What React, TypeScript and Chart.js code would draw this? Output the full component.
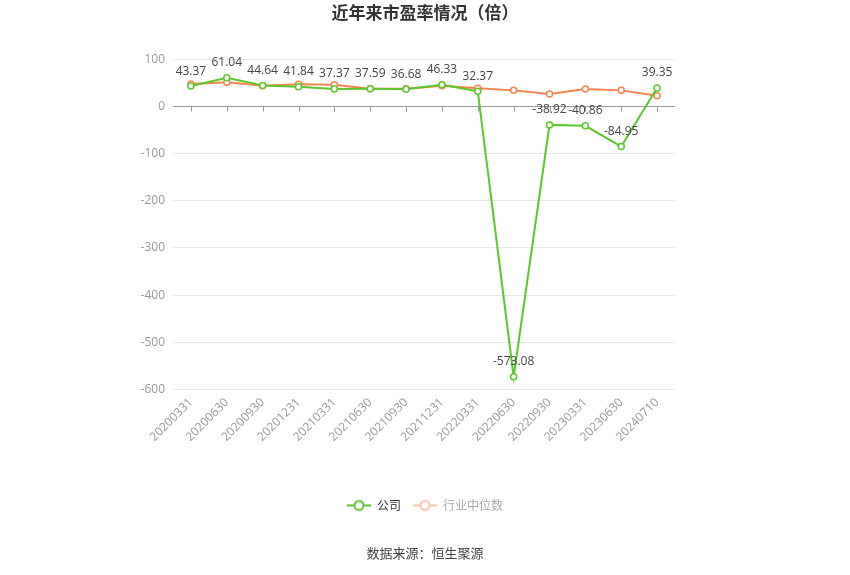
import { useEffect, useRef } from 'react'
import { Chart, registerables } from 'chart.js'

Chart.register(...registerables)

const categories = [
  '20200331', '20200630', '20200930', '20201231', '20210331', '20210630', '20210930',
  '20211231', '20220331', '20220630', '20220930', '20230331', '20230630', '20240710',
]
const companyPE = [43.37, 61.04, 44.64, 41.84, 37.37, 37.59, 36.68, 46.33, 32.37, -573.08, -38.92, -40.86, -84.95, 39.35]
const industryPE = [47.9, 51.4, 44.3, 47.1, 46.4, 37.9, 37.9, 44.3, 38.6, 34.3, 26.4, 37.1, 34.3, 22.9]
const yTicks = [100, 0, -100, -200, -300, -400, -500, -600]

const GREEN = '#5cc72c'
const ORANGE = '#f5834f'

function legendIcon(color: string) {
  const c = document.createElement('canvas')
  c.width = 24
  c.height = 14
  const g = c.getContext('2d')!
  g.strokeStyle = color
  g.lineWidth = 2
  g.beginPath()
  g.moveTo(0, 7)
  g.lineTo(24, 7)
  g.stroke()
  g.beginPath()
  g.arc(12, 7, 4.5, 0, Math.PI * 2)
  g.fillStyle = '#fff'
  g.fill()
  g.stroke()
  return c
}

const extras = {
  id: 'extras',
  afterDatasetsDraw(chart: Chart) {
    const { ctx } = chart
    const x = chart.scales.x
    const y = chart.scales.y
    const y0 = y.getPixelForValue(0)
    ctx.save()
    // ticks hanging from the zero line
    ctx.strokeStyle = '#999'
    ctx.lineWidth = 1
    categories.forEach((_, i) => {
      const px = Math.round(x.getPixelForValue(i)) + 0.5
      ctx.beginPath()
      ctx.moveTo(px, y0)
      ctx.lineTo(px, y0 + 5)
      ctx.stroke()
    })
    // value labels for the company series
    const meta = chart.getDatasetMeta(0)
    ctx.fillStyle = '#444'
    ctx.font = '12px "Open Sans", "Noto Sans", sans-serif'
    ctx.textAlign = 'center'
    ctx.textBaseline = 'middle'
    meta.data.forEach((pt, i) => {
      ctx.fillText(companyPE[i].toFixed(2), pt.x, pt.y - 15)
    })
    ctx.restore()
  },
}

export default function App() {
  const canvasRef = useRef<HTMLCanvasElement>(null)
  const chartRef = useRef<Chart | null>(null)

  useEffect(() => {
    document.body.style.margin = '0'
    const canvas = canvasRef.current
    if (!canvas) return
    const ctx = canvas.getContext('2d')
    if (!ctx) return
    if (chartRef.current) chartRef.current.destroy()

    const icons = [legendIcon(GREEN), legendIcon('#fbc3a8')]

    chartRef.current = new Chart(ctx, {
      type: 'line',
      data: {
        labels: categories,
        datasets: [
          {
            label: '公司',
            data: companyPE,
            borderColor: GREEN,
            backgroundColor: '#fff',
            borderWidth: 2,
            pointRadius: 3,
            pointBorderWidth: 1.5,
            pointBackgroundColor: '#fff',
            pointBorderColor: GREEN,
            tension: 0,
            order: 0,
          },
          {
            label: '行业中位数',
            data: industryPE,
            borderColor: ORANGE,
            backgroundColor: '#fff',
            borderWidth: 2,
            pointRadius: 3,
            pointBorderWidth: 1.5,
            pointBackgroundColor: '#fff',
            pointBorderColor: ORANGE,
            tension: 0,
            order: 1,
          },
        ],
      },
      options: {
        responsive: true,
        maintainAspectRatio: false,
        animation: false,
        layout: { padding: { left: 0, right: 0, top: 0, bottom: 14 } },
        scales: {
          x: {
            offset: true,
            grid: { display: false, drawTicks: false },
            border: { display: false },
            ticks: {
              color: '#999',
              font: { size: 12, family: '"Open Sans", "Noto Sans", sans-serif' },
              maxRotation: 45,
              minRotation: 45,
              autoSkip: false,
              padding: 6,
            },
            afterFit: (s: any) => {
              s.height = 98
            },
          },
          y: {
            min: -600,
            max: 100,
            afterBuildTicks: (s: any) => {
              s.ticks = yTicks.map((v) => ({ value: v }))
            },
            grid: {
              drawTicks: false,
              color: (c: any) => (c.tick && c.tick.value === 0 ? '#999' : '#e6e9f2'),
            },
            border: { display: false },
            ticks: {
              color: '#999',
              font: { size: 12, family: '"Open Sans", "Noto Sans", sans-serif' },
              padding: 8,
            },
            afterFit: (s: any) => {
              s.width = 173
            },
          },
          yRight: {
            position: 'right',
            display: true,
            grid: { display: false, drawTicks: false },
            border: { display: false },
            ticks: { display: false },
            afterFit: (s: any) => {
              s.width = 175
            },
          },
        },
        plugins: {
          title: {
            display: true,
            text: '近年来市盈率情况（倍）',
            color: '#333',
            font: { size: 17, weight: 'bold', family: '"Noto Sans CJK SC", sans-serif' },
            padding: { top: 2, bottom: 37 },
          },
          subtitle: {
            display: true,
            position: 'bottom',
            text: '数据来源：恒生聚源',
            color: '#444',
            font: { size: 13, family: '"Noto Sans CJK SC", sans-serif' },
            padding: { top: 24, bottom: 0 },
          },
          legend: {
            position: 'bottom',
            labels: {
              usePointStyle: true,
              pointStyleWidth: 24,
              boxHeight: 12,
              font: { size: 12, family: '"Noto Sans CJK SC", sans-serif' },
              padding: 12,
              generateLabels: (chart: Chart) =>
                chart.data.datasets.map((ds, i) => ({
                  text: ds.label as string,
                  fontColor: i === 0 ? '#333' : '#aaa',
                  pointStyle: icons[i],
                  datasetIndex: i,
                  hidden: false,
                  lineWidth: 0,
                  strokeStyle: 'transparent',
                  fillStyle: 'transparent',
                })),
            },
          },
          tooltip: { enabled: false },
        },
      },
      plugins: [extras],
    })

    return () => {
      if (chartRef.current) {
        chartRef.current.destroy()
        chartRef.current = null
      }
    }
  }, [])

  return (
    <div style={{ width: 850, height: 575, position: 'relative' }}>
      <canvas ref={canvasRef} />
    </div>
  )
}
